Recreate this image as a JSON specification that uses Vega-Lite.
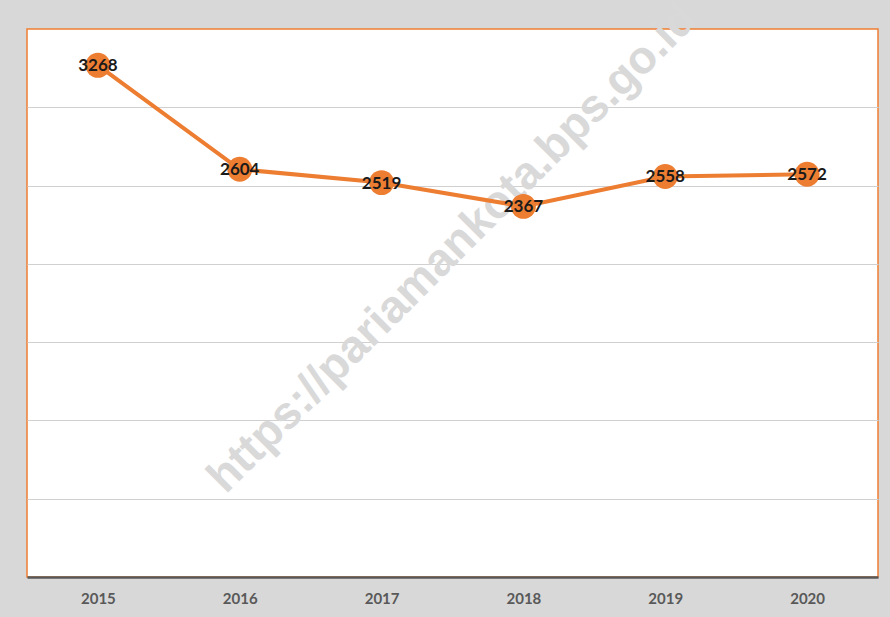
{
  "$schema": "https://vega.github.io/schema/vega-lite/v6.json",
  "width": 851,
  "height": 548,
  "autosize": "none",
  "padding": {"left": 27, "top": 29, "right": 12, "bottom": 40},
  "background": "#d8d8d8",
  "config": {"view": {"stroke": "#ED7D31", "strokeWidth": 1.5, "fill": "white"}},
  "datasets": {
    "main": [
      {"year": "2015", "value": 3268},
      {"year": "2016", "value": 2604},
      {"year": "2017", "value": 2519},
      {"year": "2018", "value": 2367},
      {"year": "2019", "value": 2558},
      {"year": "2020", "value": 2572}
    ],
    "wm": [{"label": "https://pariamankota.bps.go.id", "wx": 3.0, "wy": 2100}]
  },
  "layer": [
    {
      "data": {"name": "wm"},
      "mark": {"type": "text", "angle": -45, "fontSize": 46, "fontWeight": "bold", "font": "Liberation Sans", "color": "#d9d9d9", "align": "center", "baseline": "middle"},
      "encoding": {
        "x": {"field": "wx", "type": "quantitative", "scale": {"domain": [0, 6]}, "axis": null},
        "y": {"field": "wy", "type": "quantitative", "scale": {"domain": [0, 3500]}, "axis": null},
        "text": {"field": "label"}
      }
    },
    {
      "data": {"name": "main"},
      "encoding": {
        "x": {"field": "year", "type": "ordinal", "scale": {"type": "point", "padding": 0.5},
          "axis": {"title": null, "labelAngle": 0, "ticks": false, "domainColor": "#595959", "domainWidth": 2.5, "labelFont": "Lato", "labelFontSize": 15, "labelFontWeight": "bold", "labelColor": "#595959", "labelPadding": 14, "grid": false}},
        "y": {"field": "value", "type": "quantitative", "scale": {"domain": [0, 3500]},
          "axis": {"title": null, "labels": false, "ticks": false, "domain": false, "grid": true, "gridColor": "#d0d0d0", "values": [500, 1000, 1500, 2000, 2500, 3000]}}
      },
      "layer": [
        {"mark": {"type": "line", "color": "#ED7D31", "strokeWidth": 4}},
        {"mark": {"type": "circle", "size": 620, "opacity": 1, "color": "#ED7D31"}},
        {"mark": {"type": "text", "font": "Lato", "fontSize": 17, "fontWeight": "bold", "color": "#1a1a1a", "align": "center", "baseline": "middle", "dy": 1},
          "encoding": {"text": {"field": "value", "type": "quantitative", "format": "d"}}}
      ]
    }
  ],
  "resolve": {"scale": {"x": "independent", "y": "independent"}}
}
